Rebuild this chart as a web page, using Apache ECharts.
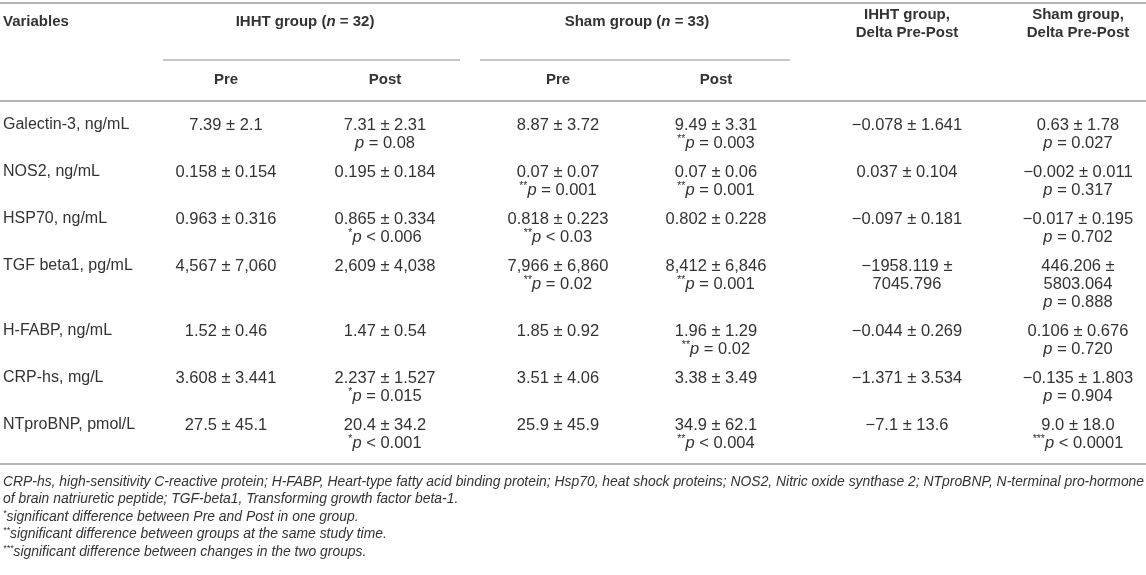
<!DOCTYPE html>
<html>
<head>
<meta charset="utf-8">
<script src="https://cdn.jsdelivr.net/npm/echarts@6/dist/echarts.min.js"></script>
<style>
  html, body { margin: 0; padding: 0; background: #fff; }
  #chart { width: 1146px; height: 575px; }
</style>
</head>
<body>
<div id="chart"></div>
<script>
// table content
const headGroups = ['IHHT group (n = 32)', 'Sham group (n = 33)']
const headDelta = ['IHHT group,\nDelta Pre-Post', 'Sham group,\nDelta Pre-Post']
const headSub = ['Pre', 'Post', 'Pre', 'Post']

const variables = ['Galectin-3, ng/mL', 'NOS2, ng/mL', 'HSP70, ng/mL', 'TGF beta1, pg/mL', 'H-FABP, ng/mL', 'CRP-hs, mg/L', 'NTproBNP, pmol/L']
const ihhtPre = ['7.39 ± 2.1', '0.158 ± 0.154', '0.963 ± 0.316', '4,567 ± 7,060', '1.52 ± 0.46', '3.608 ± 3.441', '27.5 ± 45.1']
const ihhtPost = ['7.31 ± 2.31\np = 0.08', '0.195 ± 0.184', '0.865 ± 0.334\n*p < 0.006', '2,609 ± 4,038', '1.47 ± 0.54', '2.237 ± 1.527\n*p = 0.015', '20.4 ± 34.2\n*p < 0.001']
const shamPre = ['8.87 ± 3.72', '0.07 ± 0.07\n**p = 0.001', '0.818 ± 0.223\n**p < 0.03', '7,966 ± 6,860\n**p = 0.02', '1.85 ± 0.92', '3.51 ± 4.06', '25.9 ± 45.9']
const shamPost = ['9.49 ± 3.31\n**p = 0.003', '0.07 ± 0.06\n**p = 0.001', '0.802 ± 0.228', '8,412 ± 6,846\n**p = 0.001', '1.96 ± 1.29\n**p = 0.02', '3.38 ± 3.49', '34.9 ± 62.1\n**p < 0.004']
const ihhtDelta = ['\u22120.078 ± 1.641', '0.037 ± 0.104', '\u22120.097 ± 0.181', '\u22121958.119 ±\n7045.796', '\u22120.044 ± 0.269', '\u22121.371 ± 3.534', '\u22127.1 ± 13.6']
const shamDelta = ['0.63 ± 1.78\np = 0.027', '\u22120.002 ± 0.011\np = 0.317', '\u22120.017 ± 0.195\np = 0.702', '446.206 ±\n5803.064\np = 0.888', '0.106 ± 0.676\np = 0.720', '\u22120.135 ± 1.803\np = 0.904', '9.0 ± 18.0\n***p < 0.0001']

const footnotes = [
  'CRP-hs, high-sensitivity C-reactive protein; H-FABP, Heart-type fatty acid binding protein; Hsp70, heat shock proteins; NOS2, Nitric oxide synthase 2; NTproBNP, N-terminal pro-hormone',
  'of brain natriuretic peptide; TGF-beta1, Transforming growth factor beta-1.',
  '*significant difference between Pre and Post in one group.',
  '**significant difference between groups at the same study time.',
  '***significant difference between changes in the two groups.'
]

// layout
const W = 1146, H = 575
const colX = [3, 226, 385, 558, 716, 907, 1078]
const groupX = [305, 637]
const lineH = 18
const rowGap = 11
const firstRowY = 125
const FONT = "'Liberation Sans', Arial, sans-serif"
const TXT = '#333'
const RULE = '#b4b4b4'

const rich = {
  t: { fontSize: 16.5, fontFamily: FONT, color: TXT, lineHeight: lineH },
  lab: { fontSize: 16, fontFamily: FONT, color: TXT, lineHeight: lineH },
  it: { fontSize: 16.5, fontFamily: FONT, fontStyle: 'italic', color: TXT, lineHeight: lineH },
  sup: { fontSize: 10.5, fontFamily: FONT, color: TXT, lineHeight: lineH, verticalAlign: 'top' },
  b: { fontSize: 15, fontFamily: FONT, fontWeight: 'bold', color: TXT, lineHeight: lineH },
  bi: { fontSize: 15, fontFamily: FONT, fontWeight: 'bold', fontStyle: 'italic', color: TXT, lineHeight: lineH },
  fi: { fontSize: 13.9, fontFamily: FONT, fontStyle: 'italic', color: TXT, lineHeight: 17 },
  fsup: { fontSize: 9, fontFamily: FONT, fontStyle: 'italic', color: TXT, lineHeight: 17, verticalAlign: 'top' }
}

const fmtCell = s => {
  const m = s.match(/^(\**)p (.*)$/)
  if (!m) return '{t|' + s + '}'
  return (m[1] ? '{sup|' + m[1] + '}' : '') + '{it|p}{t| ' + m[2] + '}'
}
const fmtHead = s => {
  const m = s.match(/^(.*\()n( = .*)$/)
  if (!m) return '{b|' + s + '}'
  return '{b|' + m[1] + '}{bi|n}{b|' + m[2] + '}'
}
const fmtNote = s => {
  const m = s.match(/^(\*+)(.*)$/)
  if (!m) return '{fi|' + s + '}'
  return '{fsup|' + m[1] + '}{fi|' + m[2] + '}'
}

// build text cells: [x, y] plus text/alignment looked up by index
const cells = []
const addCell = (x, y, text, align) => cells.push({ value: [x, y], text, align })

// header
addCell(colX[0], 22, fmtHead('Variables'), 'left')
headGroups.forEach((g, i) => addCell(groupX[i], 22, fmtHead(g), 'center'))
headDelta.forEach((g, i) => {
  g.split('\n').forEach((ln, k) => addCell(colX[5 + i], 15 + k * lineH, fmtHead(ln), 'center'))
})
headSub.forEach((s, i) => addCell(colX[1 + i], 80, fmtHead(s), 'center'))

// body
const columns = [variables, ihhtPre, ihhtPost, shamPre, shamPost, ihhtDelta, shamDelta]
let y = firstRowY
variables.forEach((v, r) => {
  let maxLines = 1
  columns.forEach((col, c) => {
    const lines = col[r].split('\n')
    maxLines = Math.max(maxLines, lines.length)
    lines.forEach((ln, k) => addCell(colX[c], y + k * lineH,
      c === 0 ? '{lab|' + ln + '}' : fmtCell(ln), c === 0 ? 'left' : 'center'))
  })
  y += maxLines * lineH + rowGap
})
const bodyEnd = y - rowGap - lineH + 21

// footnotes
footnotes.forEach((f, i) => addCell(colX[0], bodyEnd + 18 + i * 17.5, fmtNote(f), 'left'))

// rules: [x1, y, x2, width]
const rules = [
  [0, 3, W, 2],
  [163, 60, 460, 1.5],
  [480, 60, 790, 1.5],
  [0, 101, W, 2],
  [0, bodyEnd, W, 2]
]

const chart = echarts.init(document.getElementById('chart'), null, { renderer: 'canvas' })
chart.setOption({
  animation: false,
  backgroundColor: '#fff',
  grid: { left: 0, right: 0, top: 0, bottom: 0 },
  xAxis: { type: 'value', min: 0, max: W, show: false },
  yAxis: { type: 'value', min: 0, max: H, inverse: true, show: false },
  series: [
    {
      type: 'custom',
      coordinateSystem: 'cartesian2d',
      silent: true,
      data: rules.map(r => r.slice(0, 3)),
      renderItem: (params, api) => {
        const a = api.coord([api.value(0), api.value(1)])
        const b = api.coord([api.value(2), api.value(1)])
        return {
          type: 'line',
          shape: { x1: a[0], y1: a[1], x2: b[0], y2: b[1] },
          style: { stroke: RULE, lineWidth: rules[params.dataIndex][3] }
        }
      }
    },
    {
      type: 'custom',
      coordinateSystem: 'cartesian2d',
      silent: true,
      data: cells.map(c => c.value),
      renderItem: (params, api) => {
        const c = cells[params.dataIndex]
        const p = api.coord([api.value(0), api.value(1)])
        return {
          type: 'text',
          x: p[0],
          y: p[1],
          style: {
            text: c.text,
            rich: rich,
            align: c.align,
            verticalAlign: 'middle',
            fill: TXT,
            font: '15px ' + FONT
          }
        }
      }
    }
  ]
})
</script>
</body>
</html>
